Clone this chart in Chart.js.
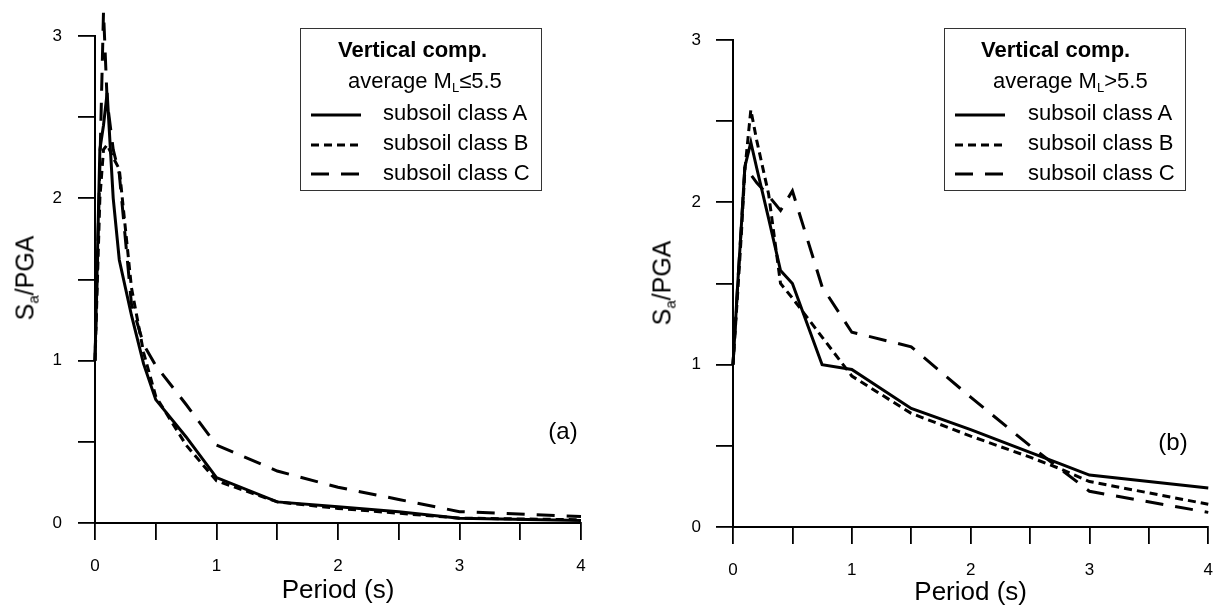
<!DOCTYPE html>
<html>
<head>
<meta charset="utf-8">
<script src="https://cdn.jsdelivr.net/npm/chart.js@4.4.1/dist/chart.umd.min.js"></script>
<style>
  body { margin: 0; background: #fff; font-family: "Liberation Sans", Arial, sans-serif; }
  #wrap { position: relative; width: 1229px; height: 608px; overflow: hidden; }
  canvas { position: absolute; top: 0; }
  .legend { position: absolute; top: 28px; width: 242px; height: 163px; border: 1px solid #333; box-sizing: border-box; }
  .legend div { position: absolute; font-size: 22px; line-height: 1; white-space: nowrap; color: #000; }
  .legend .title { font-weight: bold; }
  .legend svg { position: absolute; left: 10px; width: 50px; height: 6px; }
  .legend sub { font-size: 13px; vertical-align: -4px; line-height: 0; }
  .ytitle { position: absolute; font-size: 25px; white-space: nowrap; transform: translate(-50%, -50%) rotate(-90deg); line-height: 1; }
  .ytitle sub { font-size: 15px; vertical-align: -5px; line-height: 0; }
  .tag { position: absolute; font-size: 24px; transform: translate(-50%, -50%); line-height: 1; }
</style>
</head>
<body>
<div id="wrap">
  <canvas id="chartA" width="614" height="608" style="left:0"></canvas>
  <canvas id="chartB" width="615" height="608" style="left:614px"></canvas>

  <div class="ytitle" style="left:25px; top:278px">S<sub>a</sub>/PGA</div>
  <div class="ytitle" style="left:662px; top:283px">S<sub>a</sub>/PGA</div>
  <div class="tag" style="left:563px; top:431px">(a)</div>
  <div class="tag" style="left:1173px; top:442px">(b)</div>

  <div class="legend" style="left:300px">
    <div class="title" style="left:37px; top:10px">Vertical comp.</div>
    <div style="left:47px; top:41px">average M<sub>L</sub>≤5.5</div>
    <svg style="top:83px"><line x1="0" y1="3" x2="50" y2="3" stroke="#000" stroke-width="3"/></svg>
    <div style="left:82px; top:73px">subsoil class A</div>
    <svg style="top:113px"><line x1="0" y1="3" x2="50" y2="3" stroke="#000" stroke-width="3" stroke-dasharray="8 5"/></svg>
    <div style="left:82px; top:103px">subsoil class B</div>
    <svg style="top:142px"><line x1="0" y1="3" x2="50" y2="3" stroke="#000" stroke-width="3" stroke-dasharray="18 12"/></svg>
    <div style="left:82px; top:133px">subsoil class C</div>
  </div>

  <div class="legend" style="left:944px">
    <div class="title" style="left:36px; top:10px">Vertical comp.</div>
    <div style="left:48px; top:41px">average M<sub>L</sub>&gt;5.5</div>
    <svg style="top:83px"><line x1="0" y1="3" x2="50" y2="3" stroke="#000" stroke-width="3"/></svg>
    <div style="left:83px; top:73px">subsoil class A</div>
    <svg style="top:113px"><line x1="0" y1="3" x2="50" y2="3" stroke="#000" stroke-width="3" stroke-dasharray="8 5"/></svg>
    <div style="left:83px; top:103px">subsoil class B</div>
    <svg style="top:142px"><line x1="0" y1="3" x2="50" y2="3" stroke="#000" stroke-width="3" stroke-dasharray="18 12"/></svg>
    <div style="left:83px; top:133px">subsoil class C</div>
  </div>
</div>

<script>
// panel (a): average ML <= 5.5
const periodsA = [0, 0.04, 0.07, 0.1, 0.15, 0.2, 0.3, 0.4, 0.5, 0.75, 1, 1.5, 2, 2.5, 3, 4];
const smallClassA = [1, 2.3, 2.45, 2.65, 2.0, 1.62, 1.28, 0.98, 0.76, 0.53, 0.28, 0.13, 0.1, 0.07, 0.03, 0.015];
const smallClassB = [1, 2.0, 2.3, 2.33, 2.25, 2.18, 1.45, 1.05, 0.78, 0.48, 0.26, 0.13, 0.09, 0.06, 0.03, 0.02];
const smallClassC = [1, 2.2, 3.15, 2.6, 2.3, 2.15, 1.35, 1.1, 0.97, 0.73, 0.48, 0.32, 0.22, 0.145, 0.07, 0.04];

// panel (b): average ML > 5.5
const periodsB = [0, 0.04, 0.07, 0.1, 0.15, 0.2, 0.3, 0.4, 0.5, 0.75, 1, 1.5, 2, 2.5, 2.75, 3, 4];
const largeClassA = [1, 1.5, 1.85, 2.22, 2.37, 2.21, 1.9, 1.58, 1.5, 1.0, 0.97, 0.73, 0.6, 0.46, 0.39, 0.32, 0.24];
const largeClassB = [1, 1.45, 1.8, 2.2, 2.57, 2.38, 2.05, 1.5, 1.41, 1.17, 0.93, 0.7, 0.56, 0.43, 0.36, 0.28, 0.14];
const largeClassC = [1, 1.5, 1.85, 2.22, 2.17, 2.12, 2.04, 1.95, 2.07, 1.48, 1.2, 1.11, 0.8, 0.5, 0.36, 0.22, 0.09];

const xTicks = [0, 0.5, 1, 1.5, 2, 2.5, 3, 3.5, 4];
const yTicks = [0, 0.5, 1, 1.5, 2, 2.5, 3];

const FONT = '"Liberation Sans", Arial, sans-serif';

function toPoints(periods, values) {
  return periods.map((t, i) => ({ x: t, y: values[i] }));
}

function lineSet(label, periods, values, dash) {
  return {
    label: label,
    data: toPoints(periods, values),
    borderColor: '#000',
    borderWidth: 3,
    borderDash: dash,
    pointRadius: 0,
    tension: 0,
    fill: false,
    clip: false
  };
}

function makeChart(id, periods, series, box) {
  const ctx = document.getElementById(id).getContext('2d');
  return new Chart(ctx, {
    type: 'line',
    data: {
      datasets: [
        lineSet('subsoil class A', periods, series[0], []),
        lineSet('subsoil class B', periods, series[1], [8, 5]),
        lineSet('subsoil class C', periods, series[2], [18, 12])
      ]
    },
    options: {
      responsive: false,
      animation: false,
      events: [],
      layout: { padding: { top: box.top, right: box.right, bottom: 0, left: 0 } },
      plugins: { legend: { display: false }, tooltip: { enabled: false } },
      scales: {
        x: {
          type: 'linear',
          min: 0,
          max: 4,
          afterBuildTicks: (scale) => { scale.ticks = xTicks.map(v => ({ value: v })); },
          afterFit: (scale) => { scale.height = box.xHeight; },
          ticks: {
            color: '#000',
            font: { family: FONT, size: 17 },
            padding: 16,
            maxRotation: 0,
            autoSkip: false,
            callback: (v) => Number.isInteger(v) ? String(v) : ''
          },
          grid: { drawOnChartArea: false, drawTicks: true, tickLength: 17, color: '#000', lineWidth: 1.8 },
          border: { display: true, color: '#000', width: 2 },
          title: {
            display: true,
            text: 'Period (s)',
            color: '#000',
            font: { family: FONT, size: 26 },
            padding: { top: 0, bottom: box.titlePad }
          }
        },
        y: {
          type: 'linear',
          min: 0,
          max: 3,
          afterBuildTicks: (scale) => { scale.ticks = yTicks.map(v => ({ value: v })); },
          afterFit: (scale) => { scale.width = box.yWidth; },
          ticks: {
            color: '#000',
            font: { family: FONT, size: 17 },
            padding: box.yPad,
            autoSkip: false,
            callback: (v) => Number.isInteger(v) ? String(v) : ''
          },
          grid: { drawOnChartArea: false, drawTicks: true, tickLength: 17, color: '#000', lineWidth: 1.8 },
          border: { display: true, color: '#000', width: 2 }
        }
      }
    }
  });
}

makeChart('chartA', periodsA, [smallClassA, smallClassB, smallClassC],
  { top: 36, right: 33, xHeight: 85, yWidth: 95, yPad: 16, titlePad: 2 });
makeChart('chartB', periodsB, [largeClassA, largeClassB, largeClassC],
  { top: 40, right: 16, xHeight: 81, yWidth: 119, yPad: 15, titlePad: 0 });
</script>
</body>
</html>
